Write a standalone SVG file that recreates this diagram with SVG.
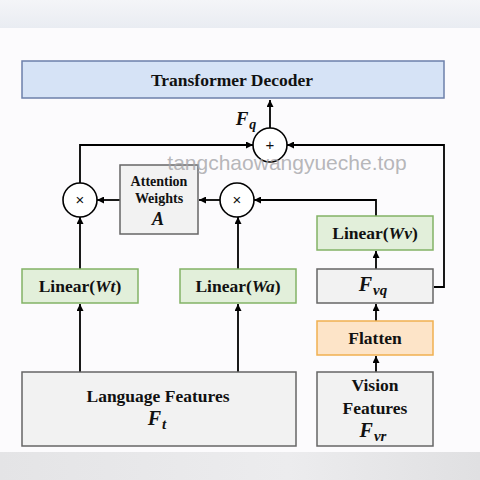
<svg xmlns="http://www.w3.org/2000/svg" width="480" height="480" viewBox="0 0 480 480">
<defs>
<marker id="ah" viewBox="0 0 10 10" refX="10" refY="5" markerWidth="7" markerHeight="7" markerUnits="userSpaceOnUse" orient="auto">
<path d="M0,0 L10,5 L0,10 z" fill="#000"/>
</marker>
<linearGradient id="top" x1="0" y1="0" x2="0" y2="1"><stop offset="0" stop-color="#f4f5f8"/><stop offset="1" stop-color="#e9ecf2"/></linearGradient>
<linearGradient id="bot" x1="0" y1="0" x2="1" y2="0"><stop offset="0" stop-color="#e4e4e6"/><stop offset="0.6" stop-color="#ececee"/><stop offset="1" stop-color="#e0e0e2"/></linearGradient>
</defs>
<style>
.t{font-family:"Liberation Serif",serif;font-weight:bold;fill:#111;text-anchor:middle}
.gray{fill:#f2f2f2;stroke:#666;stroke-width:1.5}
.green{fill:#e2efda;stroke:#82b366;stroke-width:1.5}
.c{fill:#fff;stroke:#000;stroke-width:1.6}
.ln{fill:none;stroke:#000;stroke-width:1.8}
.i{font-style:italic}
.op{font-family:"Liberation Sans",sans-serif;font-size:15px;text-anchor:middle;fill:#111}
</style>
<rect width="480" height="480" fill="#fcfbfd"/>
<rect width="480" height="28" fill="url(#top)"/>
<rect y="452" width="480" height="28" fill="url(#bot)"/>

<g id="connectors">
<path class="ln" d="M270,128 V100" marker-end="url(#ah)"/>
<path class="ln" d="M80,183 V145 H253" marker-end="url(#ah)"/>
<path class="ln" d="M434,287 H444 V145 H287" marker-end="url(#ah)"/>
<path class="ln" d="M80,270 V217" marker-end="url(#ah)"/>
<path class="ln" d="M120,200 H97" marker-end="url(#ah)"/>
<path class="ln" d="M220,200 H199" marker-end="url(#ah)"/>
<path class="ln" d="M376,217 V200 H254" marker-end="url(#ah)"/>
<path class="ln" d="M238,270 V217" marker-end="url(#ah)"/>
<path class="ln" d="M376,269 V251" marker-end="url(#ah)"/>
<path class="ln" d="M376,321 V304" marker-end="url(#ah)"/>
<path class="ln" d="M376,372 V356" marker-end="url(#ah)"/>
<path class="ln" d="M80,372 V304" marker-end="url(#ah)"/>
<path class="ln" d="M238,372 V304" marker-end="url(#ah)"/>
</g>

<g id="decoder">
<rect x="22" y="61" width="422" height="37" fill="#d6e3f6" stroke="#6c80aa" stroke-width="1.5"/>
<text class="t" x="232" y="86" font-size="17.5">Transformer Decoder</text>
</g>
<g id="fq-label">
<text class="t i" x="246" y="125" font-size="19">F<tspan font-size="14" dx="1" dy="4">q</tspan></text>
</g>
<g id="plus">
<circle class="c" cx="270" cy="145" r="17"/>
<text class="op" x="270" y="150">+</text>
</g>
<g id="mul-left">
<circle class="c" cx="80" cy="200" r="17"/>
<text class="op" x="80" y="205">×</text>
</g>
<g id="mul-mid">
<circle class="c" cx="237" cy="200" r="17"/>
<text class="op" x="237" y="205">×</text>
</g>
<g id="attention">
<rect class="gray" x="120" y="165" width="78" height="69"/>
<text class="t" x="159" y="186" font-size="14">Attention</text>
<text class="t" x="159" y="203" font-size="14">Weights</text>
<text class="t i" x="158" y="225" font-size="18">A</text>
</g>
<g id="linear-wt">
<rect class="green" x="22" y="269" width="116" height="34"/>
<text class="t" x="80" y="292" font-size="17.5">Linear(<tspan class="i">Wt</tspan>)</text>
</g>
<g id="linear-wa">
<rect class="green" x="180" y="269" width="116" height="34"/>
<text class="t" x="238" y="292" font-size="17.5">Linear(<tspan class="i">Wa</tspan>)</text>
</g>
<g id="linear-wv">
<rect class="green" x="317" y="216" width="116" height="34"/>
<text class="t" x="375" y="239" font-size="17.5">Linear(<tspan class="i">Wv</tspan>)</text>
</g>
<g id="fvq">
<rect class="gray" x="317" y="269" width="116" height="34"/>
<text class="t i" x="373" y="291" font-size="20">F<tspan font-size="15" dx="1" dy="4">vq</tspan></text>
</g>
<g id="flatten">
<rect x="317" y="321" width="116" height="34" fill="#fde4c8" stroke="#f0b050" stroke-width="1.5"/>
<text class="t" x="375" y="344" font-size="17.5">Flatten</text>
</g>
<g id="vision">
<rect class="gray" x="317" y="372" width="116" height="74"/>
<text class="t" x="375" y="391" font-size="17.5">Vision</text>
<text class="t" x="375" y="414" font-size="17.5">Features</text>
<text class="t i" x="373" y="437" font-size="20">F<tspan font-size="15" dx="1" dy="4">vr</tspan></text>
</g>
<g id="language">
<rect class="gray" x="22" y="372" width="274" height="74"/>
<text class="t" x="158" y="402" font-size="17.5">Language Features</text>
<text class="t i" x="157" y="425" font-size="20">F<tspan font-size="15" dx="1" dy="4">t</tspan></text>
</g>
<text x="287" y="170" font-family="Liberation Sans,sans-serif" font-size="21" fill="#a4a4a8" fill-opacity="0.8" text-anchor="middle">tangchaowangyueche.top</text>
</svg>
